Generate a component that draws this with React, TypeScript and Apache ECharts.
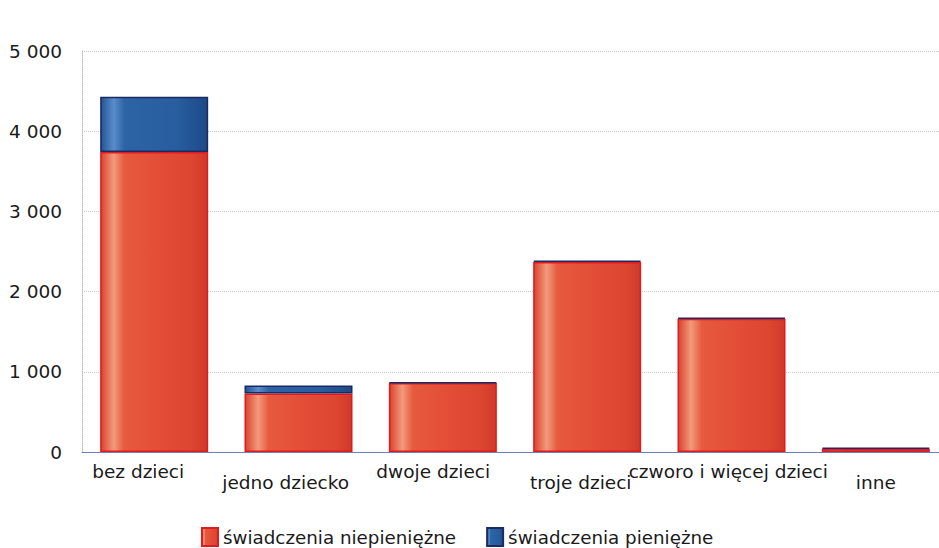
import React, { useEffect, useRef } from "react";
import * as echarts from "echarts";

const categories = ["bez dzieci", "jedno dziecko", "dwoje dzieci", "troje dzieci", "czworo i więcej dzieci", "inne"];
const nonCash = [3740, 730, 860, 2370, 1660, 40];
const cash = [690, 100, 10, 15, 15, 15];
const seriesNames = ["świadczenia niepieniężne", "świadczenia pieniężne"];
const yTicks = [0, 1000, 2000, 3000, 4000, 5000];

const FONT = "'DejaVu Sans', Verdana, sans-serif";

function redFill() {
  return new echarts.graphic.LinearGradient(0, 0, 1, 0, [
    { offset: 0, color: "#d9432c" },
    { offset: 0.12, color: "#f39a7c" },
    { offset: 0.22, color: "#e65a3e" },
    { offset: 0.6, color: "#e24c36" },
    { offset: 0.85, color: "#dd4631" },
    { offset: 1, color: "#cf3a28" },
  ]);
}
function blueFill() {
  return new echarts.graphic.LinearGradient(0, 0, 1, 0, [
    { offset: 0, color: "#22558f" },
    { offset: 0.12, color: "#5a8ccc" },
    { offset: 0.22, color: "#2c64a6" },
    { offset: 0.7, color: "#285e9f" },
    { offset: 1, color: "#1d4a88" },
  ]);
}

export default function App() {
  const ref = useRef<HTMLDivElement>(null);
  useEffect(() => {
    if (!ref.current) return;
    const chart = echarts.init(ref.current, null, { renderer: "svg" });
    const rich: Record<string, any> = {};
    categories.forEach((_, i) => {
      const shift = Math.max(0, 16 - 3.2 * i);
      rich["r" + i] = {
        fontFamily: FONT,
        fontSize: 18.5,
        color: "#1a1a1a",
        lineHeight: 22,
        padding: [i % 2 === 1 ? 22 : 0, shift * 2, 0, 0],
      };
    });
    chart.setOption({
      animation: false,
      backgroundColor: "#ffffff",
      textStyle: { fontFamily: FONT },
      legend: {
        left: 196,
        top: 522,
        itemWidth: 16,
        itemHeight: 18,
        itemGap: 30,
        icon: "rect",
        textStyle: { fontFamily: FONT, fontSize: 18.3, color: "#1a1a1a" },
        data: seriesNames,
      },
      grid: { left: 82, top: 51, width: 866, height: 401, containLabel: false },
      xAxis: {
        type: "category",
        data: categories,
        axisTick: { show: false },
        axisLine: { show: true, lineStyle: { color: "#6f80b8", width: 1 } },
        axisLabel: {
          interval: 0,
          margin: 8,
          fontFamily: FONT,
          fontSize: 18.5,
          color: "#1a1a1a",
          formatter: (v: string, i: number) => `{r${i}|${v}}`,
          rich,
        },
      },
      yAxis: {
        type: "value",
        min: yTicks[0],
        max: yTicks[yTicks.length - 1],
        interval: 1000,
        axisLine: { show: true, lineStyle: { color: "#bbbbbb", type: "dotted" } },
        axisTick: { show: false },
        splitLine: { show: true, lineStyle: { color: "#c8c8c8", type: "dotted" } },
        axisLabel: {
          margin: 20,
          fontFamily: FONT,
          fontSize: 18.5,
          color: "#1a1a1a",
          formatter: (v: number) => String(v).replace(/\B(?=(\d{3})+(?!\d))/g, " "),
        },
      },
      series: [
        {
          name: seriesNames[0],
          type: "bar",
          stack: "s",
          barWidth: 108,
          data: nonCash,
          itemStyle: { color: redFill(), borderColor: "#e01a22", borderWidth: 1.5 },
        },
        {
          name: seriesNames[1],
          type: "bar",
          stack: "s",
          barWidth: 108,
          data: cash,
          itemStyle: { color: blueFill(), borderColor: "#1c2a62", borderWidth: 1.5 },
        },
      ],
    });
    return () => chart.dispose();
  }, []);
  return (
    <div
      ref={ref}
      style={{ position: "fixed", left: 0, top: 0, width: 960, height: 548 }}
    />
  );
}
